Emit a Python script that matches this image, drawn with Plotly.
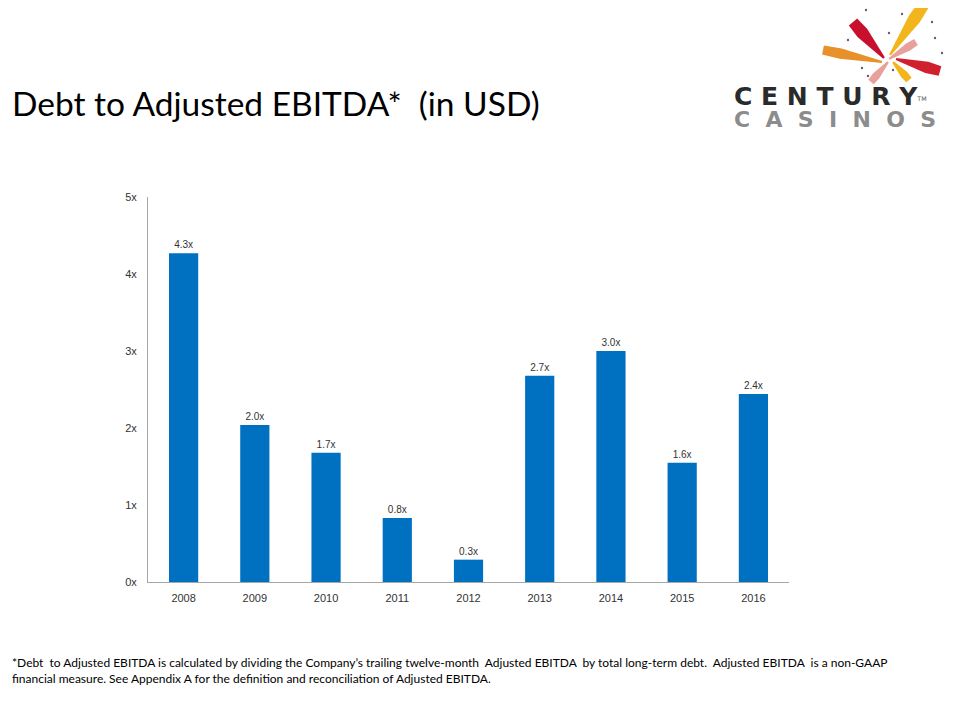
import math
import plotly.graph_objects as go

# ---- data ----
years = ["2008", "2009", "2010", "2011", "2012", "2013", "2014", "2015", "2016"]
ratios = [4.27, 2.04, 1.68, 0.83, 0.29, 2.68, 3.00, 1.55, 2.44]
ratio_labels = ["4.3x", "2.0x", "1.7x", "0.8x", "0.3x", "2.7x", "3.0x", "1.6x", "2.4x"]
y_tick_vals = [0, 1, 2, 3, 4, 5]
y_tick_text = ["0x", "1x", "2x", "3x", "4x", "5x"]

# page body has an 8px margin; figure sized to fit the window
OFF = 8
W, H = 960 - OFF, 720 - OFF


def px(x):
    return (x - OFF) / W


def py(y):
    return 1 - (y - OFF) / H


fig = go.Figure()
fig.add_trace(go.Bar(
    x=years, y=ratios, text=ratio_labels, textposition="outside",
    textfont=dict(family="Liberation Sans, Arial", size=10, color="#333333"),
    marker=dict(color="#0070C0", line=dict(width=0)),
    cliponaxis=False, hoverinfo="skip",
))


# ---- logo: brush strokes ----
def stroke(x0, y0, x1, y1, w0, w1, color):
    dx, dy = x1 - x0, y1 - y0
    L = math.hypot(dx, dy)
    nx, ny = -dy / L, dx / L
    wm = max(w0, w1) * 1.15
    pts = [
        (x0 + nx * w0 / 2, y0 + ny * w0 / 2),
        (x0 + dx * 0.3 + nx * wm / 2, y0 + dy * 0.3 + ny * wm / 2),
        (x1 + nx * w1 / 2, y1 + ny * w1 / 2),
        (x1 - nx * w1 / 2, y1 - ny * w1 / 2),
        (x0 + dx * 0.3 - nx * wm / 2, y0 + dy * 0.3 - ny * wm / 2),
        (x0 - nx * w0 / 2, y0 - ny * w0 / 2),
    ]
    path = "M " + " L ".join(f"{px(a):.5f},{py(b):.5f}" for a, b in pts) + " Z"
    return dict(type="path", path=path, xref="paper", yref="paper",
                fillcolor=color, line=dict(width=0), layer="above")


shapes = [
    stroke(853, 22, 884, 58, 11, 2, "#C8102E"),
    stroke(925, 3, 890, 55, 11, 2, "#F2B61C"),
    stroke(823, 50, 882, 62, 9, 2, "#E8902A"),
    stroke(940, 71, 896, 59, 10, 2, "#D0202E"),
    stroke(916, 42, 889, 59, 7, 2, "#E8A09A"),
    stroke(909, 80, 893, 62, 7, 2, "#F2B61C"),
    stroke(871, 82, 888, 62, 7, 2, "#E8A09A"),
]
for (cx, cy) in [(866, 10), (902, 14), (932, 22), (889, 33), (848, 40), (942, 53),
                 (893, 70), (868, 76), (862, 68), (935, 38)]:
    shapes.append(dict(type="circle", xref="paper", yref="paper",
                       x0=px(cx - 1.2), x1=px(cx + 1.2), y0=py(cy + 1.2), y1=py(cy - 1.2),
                       fillcolor="#6a5a7a", line=dict(width=0)))

annotations = []
# title
annotations.append(dict(text="Debt to Adjusted EBITDA*  (in USD)", x=px(10), y=py(103),
                        xref="paper", yref="paper", xanchor="left", yanchor="middle",
                        showarrow=False, font=dict(family="Lato", size=33.5, color="#000000")))
# footnote
annotations.append(dict(
    text="*Debt  to Adjusted EBITDA is calculated by dividing the Company’s trailing twelve-month  Adjusted EBITDA  by total long-term debt.  Adjusted EBITDA  is a non-GAAP<br>financial measure. See Appendix A for the definition and reconciliation of Adjusted EBITDA.",
    x=px(10), y=py(670), xref="paper", yref="paper", xanchor="left", yanchor="middle",
    align="left", showarrow=False,
    font=dict(family="Lato", size=12, color="#000000")))

# logo wordmark (one text, two lines)
nb = "\u00a0"
line1 = nb.join("CENTURY")
line2 = (nb * 2).join("CASINOS")
logo_text = (f"<span style='font-size:25px;color:#2A2A2A'><b>{line1}</b></span>"
             f"<span style='font-size:9px;color:#555555'><sup>TM</sup></span><br>"
             f"<span style='font-size:22px;color:#8C8C8C'><b>{line2}</b></span>")
annotations.append(dict(text=logo_text, x=px(732), y=py(107), xref="paper", yref="paper",
                        xanchor="left", yanchor="middle", align="left", showarrow=False,
                        font=dict(family="DejaVu Sans", size=17, color="#2A2A2A")))

fig.update_layout(
    width=W, height=H, autosize=False,
    margin=dict(l=0, r=0, t=0, b=0),
    paper_bgcolor="white", plot_bgcolor="white",
    showlegend=False, bargap=0.59,
    shapes=shapes, annotations=annotations,
    xaxis=dict(domain=[px(148), px(789)], showline=True, linecolor="#A6A6A6", linewidth=1,
               showgrid=False, zeroline=False, ticks="", ticklabelstandoff=6,
               tickfont=dict(family="Liberation Sans, Arial", size=11, color="#333333"),
               automargin=False),
    yaxis=dict(domain=[py(582), py(197)], range=[0, 5], tickvals=y_tick_vals, ticktext=y_tick_text,
               showline=True, linecolor="#A6A6A6", linewidth=1, showgrid=False, zeroline=False,
               ticks="", ticklabelstandoff=8,
               tickfont=dict(family="Liberation Sans, Arial", size=11, color="#333333"),
               automargin=False),
)

fig.write_html("out.html")
